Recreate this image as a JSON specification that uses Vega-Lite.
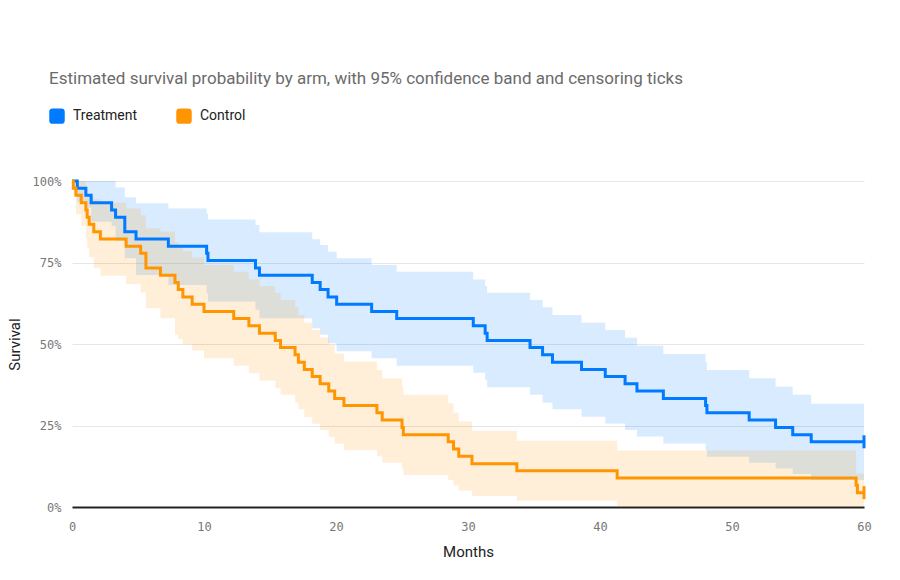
{
  "$schema": "https://vega.github.io/schema/vega-lite/v6.json",
  "width": 792,
  "height": 326,
  "autosize": {"type": "none"},
  "padding": {"left": 72, "top": 181, "right": 36, "bottom": 73},
  "background": "#ffffff",
  "title": {
    "text": "Estimated survival probability by arm, with 95% confidence band and censoring ticks",
    "anchor": "start",
    "frame": "group",
    "dx": -23,
    "offset": 20,
    "font": "Roboto",
    "fontSize": 17,
    "fontWeight": "normal",
    "color": "#6b6b6b"
  },
  "config": {
    "view": {"stroke": null},
    "axis": {
      "labelFont": "DejaVu Sans Mono",
      "labelFontSize": 12,
      "labelColor": "#777777",
      "titleFont": "Roboto",
      "titleFontSize": 15,
      "titleFontWeight": "normal",
      "titleColor": "#222222",
      "ticks": false
    }
  },
  "datasets": {
    "curve": [
      {"arm": "Treatment", "t": 0, "s": 100, "lo": 100, "hi": 100},
      {"arm": "Treatment", "t": 0.4, "s": 97.8, "lo": 93.5, "hi": 100},
      {"arm": "Treatment", "t": 1.05, "s": 95.6, "lo": 91.8, "hi": 100},
      {"arm": "Treatment", "t": 1.45, "s": 93.3, "lo": 87.5, "hi": 100},
      {"arm": "Treatment", "t": 3.0, "s": 91.1, "lo": 86.2, "hi": 100},
      {"arm": "Treatment", "t": 3.3, "s": 88.9, "lo": 81.6, "hi": 98.0},
      {"arm": "Treatment", "t": 4.0, "s": 84.4, "lo": 76.3, "hi": 95.0},
      {"arm": "Treatment", "t": 4.85, "s": 82.2, "lo": 71.2, "hi": 93.2},
      {"arm": "Treatment", "t": 7.3, "s": 80.0, "lo": 68.1, "hi": 91.6},
      {"arm": "Treatment", "t": 10.2, "s": 77.8, "lo": 65.5, "hi": 90.0},
      {"arm": "Treatment", "t": 10.3, "s": 75.6, "lo": 63.0, "hi": 88.2},
      {"arm": "Treatment", "t": 13.9, "s": 73.3, "lo": 60.5, "hi": 86.5},
      {"arm": "Treatment", "t": 14.2, "s": 71.1, "lo": 57.9, "hi": 84.3},
      {"arm": "Treatment", "t": 18.2, "s": 68.9, "lo": 54.8, "hi": 82.1},
      {"arm": "Treatment", "t": 18.8, "s": 66.7, "lo": 52.8, "hi": 80.4},
      {"arm": "Treatment", "t": 19.4, "s": 64.4, "lo": 50.2, "hi": 78.3},
      {"arm": "Treatment", "t": 20.05, "s": 62.2, "lo": 47.8, "hi": 76.3},
      {"arm": "Treatment", "t": 22.7, "s": 60.0, "lo": 45.6, "hi": 74.2},
      {"arm": "Treatment", "t": 24.6, "s": 57.8, "lo": 43.3, "hi": 72.2},
      {"arm": "Treatment", "t": 30.4, "s": 55.6, "lo": 41.2, "hi": 69.8},
      {"arm": "Treatment", "t": 31.3, "s": 53.3, "lo": 39.0, "hi": 67.8},
      {"arm": "Treatment", "t": 31.45, "s": 51.1, "lo": 36.7, "hi": 65.7},
      {"arm": "Treatment", "t": 34.7, "s": 48.9, "lo": 34.4, "hi": 63.5},
      {"arm": "Treatment", "t": 35.65, "s": 46.7, "lo": 32.0, "hi": 61.3},
      {"arm": "Treatment", "t": 36.4, "s": 44.4, "lo": 30.0, "hi": 58.9},
      {"arm": "Treatment", "t": 38.6, "s": 42.2, "lo": 27.7, "hi": 56.5},
      {"arm": "Treatment", "t": 40.4, "s": 40.0, "lo": 25.6, "hi": 54.3},
      {"arm": "Treatment", "t": 41.9, "s": 37.8, "lo": 23.6, "hi": 51.9},
      {"arm": "Treatment", "t": 42.8, "s": 35.6, "lo": 21.6, "hi": 49.5},
      {"arm": "Treatment", "t": 44.8, "s": 33.3, "lo": 19.5, "hi": 46.9},
      {"arm": "Treatment", "t": 48.0, "s": 31.1, "lo": 17.5, "hi": 44.5},
      {"arm": "Treatment", "t": 48.1, "s": 28.9, "lo": 15.4, "hi": 42.0},
      {"arm": "Treatment", "t": 51.3, "s": 26.7, "lo": 13.6, "hi": 39.5},
      {"arm": "Treatment", "t": 53.3, "s": 24.4, "lo": 11.8, "hi": 36.9},
      {"arm": "Treatment", "t": 54.6, "s": 22.2, "lo": 10.1, "hi": 34.4},
      {"arm": "Treatment", "t": 56.0, "s": 20.0, "lo": 8.3, "hi": 31.7},
      {"arm": "Treatment", "t": 60, "s": 20.0, "lo": 8.3, "hi": 31.7},
      {"arm": "Control", "t": 0, "s": 100, "lo": 100, "hi": 100},
      {"arm": "Control", "t": 0.1, "s": 97.8, "lo": 95.4, "hi": 100},
      {"arm": "Control", "t": 0.3, "s": 95.6, "lo": 89.8, "hi": 100},
      {"arm": "Control", "t": 0.7, "s": 93.3, "lo": 86.2, "hi": 100},
      {"arm": "Control", "t": 1.05, "s": 91.1, "lo": 82.1, "hi": 97.5},
      {"arm": "Control", "t": 1.15, "s": 88.9, "lo": 79.5, "hi": 96.0},
      {"arm": "Control", "t": 1.3, "s": 86.7, "lo": 76.5, "hi": 95.4},
      {"arm": "Control", "t": 1.65, "s": 84.4, "lo": 73.4, "hi": 94.5},
      {"arm": "Control", "t": 2.15, "s": 82.2, "lo": 70.9, "hi": 93.3},
      {"arm": "Control", "t": 4.1, "s": 80.0, "lo": 68.3, "hi": 91.6},
      {"arm": "Control", "t": 5.2, "s": 77.8, "lo": 65.8, "hi": 89.5},
      {"arm": "Control", "t": 5.6, "s": 73.3, "lo": 61.0, "hi": 85.5},
      {"arm": "Control", "t": 6.7, "s": 71.1, "lo": 57.9, "hi": 84.5},
      {"arm": "Control", "t": 7.8, "s": 68.9, "lo": 52.8, "hi": 81.2},
      {"arm": "Control", "t": 8.05, "s": 66.7, "lo": 51.5, "hi": 80.0},
      {"arm": "Control", "t": 8.4, "s": 64.4, "lo": 49.9, "hi": 78.5},
      {"arm": "Control", "t": 9.1, "s": 62.2, "lo": 48.0, "hi": 76.5},
      {"arm": "Control", "t": 10.0, "s": 60.0, "lo": 45.6, "hi": 74.2},
      {"arm": "Control", "t": 12.25, "s": 57.8, "lo": 43.3, "hi": 72.2},
      {"arm": "Control", "t": 13.4, "s": 55.6, "lo": 41.0, "hi": 69.8},
      {"arm": "Control", "t": 14.2, "s": 53.3, "lo": 38.7, "hi": 67.8},
      {"arm": "Control", "t": 15.4, "s": 51.1, "lo": 36.4, "hi": 65.7},
      {"arm": "Control", "t": 15.8, "s": 48.9, "lo": 34.4, "hi": 63.5},
      {"arm": "Control", "t": 16.9, "s": 46.7, "lo": 32.0, "hi": 61.3},
      {"arm": "Control", "t": 17.15, "s": 44.4, "lo": 30.0, "hi": 58.9},
      {"arm": "Control", "t": 17.6, "s": 42.2, "lo": 27.5, "hi": 56.5},
      {"arm": "Control", "t": 18.2, "s": 40.0, "lo": 25.5, "hi": 54.3},
      {"arm": "Control", "t": 18.8, "s": 37.8, "lo": 23.6, "hi": 52.0},
      {"arm": "Control", "t": 19.45, "s": 35.6, "lo": 21.5, "hi": 49.7},
      {"arm": "Control", "t": 19.9, "s": 33.3, "lo": 19.4, "hi": 47.1},
      {"arm": "Control", "t": 20.6, "s": 31.1, "lo": 17.5, "hi": 44.6},
      {"arm": "Control", "t": 23.1, "s": 28.9, "lo": 15.6, "hi": 42.0},
      {"arm": "Control", "t": 23.5, "s": 26.7, "lo": 13.6, "hi": 39.5},
      {"arm": "Control", "t": 25.0, "s": 24.4, "lo": 11.7, "hi": 37.0},
      {"arm": "Control", "t": 25.1, "s": 22.2, "lo": 9.8, "hi": 34.4},
      {"arm": "Control", "t": 28.5, "s": 20.0, "lo": 8.3, "hi": 31.8},
      {"arm": "Control", "t": 28.9, "s": 17.8, "lo": 6.7, "hi": 28.9},
      {"arm": "Control", "t": 29.3, "s": 15.6, "lo": 5.0, "hi": 26.2},
      {"arm": "Control", "t": 30.3, "s": 13.3, "lo": 3.4, "hi": 23.4},
      {"arm": "Control", "t": 33.7, "s": 11.1, "lo": 1.9, "hi": 20.3},
      {"arm": "Control", "t": 41.3, "s": 8.9, "lo": 0, "hi": 17.3},
      {"arm": "Control", "t": 59.4, "s": 6.7, "lo": 0, "hi": 10.3},
      {"arm": "Control", "t": 59.5, "s": 4.4, "lo": 0, "hi": 10.3},
      {"arm": "Control", "t": 60, "s": 4.4, "lo": 0, "hi": 10.3}
    ],
    "censor": [
      {"arm": "Treatment", "t": 60, "s": 20.0},
      {"arm": "Control", "t": 60, "s": 4.4}
    ]
  },
  "encoding": {
    "x": {
      "field": "t",
      "type": "quantitative",
      "scale": {"domain": [0, 60], "nice": false},
      "axis": {
        "title": "Months",
        "values": [0, 10, 20, 30, 40, 50, 60],
        "grid": false,
        "domain": true,
        "domainColor": "#222222",
        "domainWidth": 2,
        "labelPadding": 14,
        "labelFlush": false,
        "titlePadding": 12
      }
    },
    "color": {
      "field": "arm",
      "type": "nominal",
      "scale": {"domain": ["Treatment", "Control"], "range": ["#007AFF", "#FF9500"]},
      "legend": {
        "title": null,
        "orient": "none",
        "legendX": -23,
        "legendY": -73,
        "direction": "horizontal",
        "symbolType": "M -1 -0.55 Q -1 -1 -0.55 -1 L 0.55 -1 Q 1 -1 1 -0.55 L 1 0.55 Q 1 1 0.55 1 L -0.55 1 Q -1 1 -1 0.55 Z",
        "symbolSize": 240,
        "symbolOpacity": 1,
        "symbolStrokeWidth": 0,
        "labelFont": "Roboto",
        "labelFontSize": 14,
        "labelColor": "#222222",
        "labelOffset": 8,
        "columnPadding": 38,
        "encode": {
          "symbols": {"update": {"fill": {"scale": "color", "field": "value"}, "opacity": {"value": 1}}}
        }
      }
    }
  },
  "layer": [
    {
      "data": {"name": "curve"},
      "mark": {"type": "area", "interpolate": "step-after", "opacity": 0.15},
      "encoding": {
        "y": {
          "field": "lo",
          "type": "quantitative",
          "scale": {"domain": [0, 100], "nice": false},
          "axis": {
            "title": "Survival",
            "values": [0, 25, 50, 75, 100],
            "labelExpr": "datum.value + '%'",
            "grid": true,
            "gridColor": "#e6e6e6",
            "domain": false,
            "labelPadding": 11,
            "titlePadding": 10
          }
        },
        "y2": {"field": "hi"}
      }
    },
    {
      "data": {"name": "curve"},
      "mark": {"type": "line", "interpolate": "step-after", "strokeWidth": 3},
      "encoding": {
        "y": {"field": "s", "type": "quantitative"}
      }
    },
    {
      "data": {"name": "censor"},
      "mark": {"type": "tick", "orient": "vertical", "size": 13, "thickness": 3, "opacity": 1},
      "encoding": {
        "y": {"field": "s", "type": "quantitative"}
      }
    }
  ]
}
